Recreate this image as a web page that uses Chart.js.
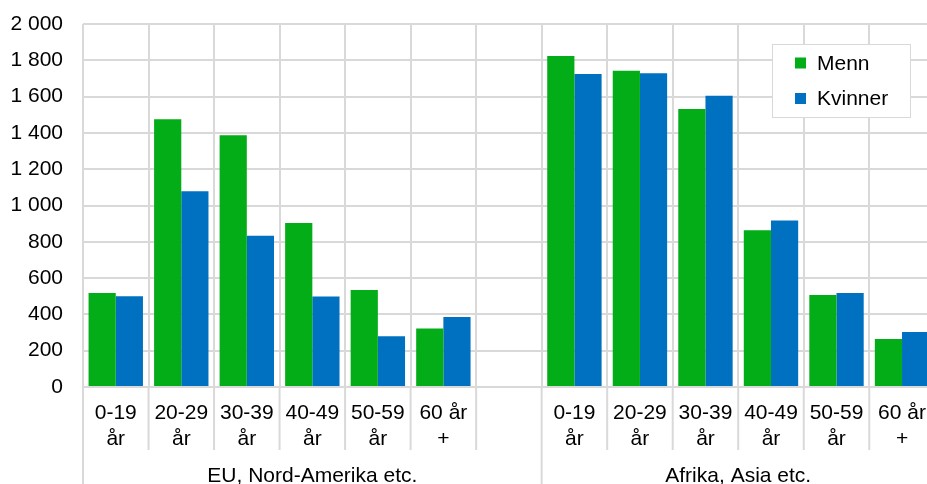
<!DOCTYPE html>
<html>
<head>
<meta charset="utf-8">
<script src="https://cdn.jsdelivr.net/npm/chart.js@4"></script>
<style>
  html, body { margin: 0; padding: 0; overflow: hidden; background: #fff; }
  #wrap { position: absolute; left: 0; top: 0; width: 940px; height: 484px; }
</style>
</head>
<body>
<div id="wrap"><canvas id="chart" width="940" height="484"></canvas></div>
<script>
// age groups per region, with one empty slot between the regions
const ageLabels = [
  ['0-19', 'år'], ['20-29', 'år'], ['30-39', 'år'], ['40-49', 'år'], ['50-59', 'år'], ['60 år', '+'],
  [''],
  ['0-19', 'år'], ['20-29', 'år'], ['30-39', 'år'], ['40-49', 'år'], ['50-59', 'år'], ['60 år', '+']
];
const menn    = [518, 1475, 1387, 903, 534, 323, null, 1824, 1743, 1532, 863, 507, 264];
const kvinner = [500, 1078,  834, 498, 279, 386, null, 1724, 1728, 1605, 918, 518, 303];
const regionLabels = ['EU, Nord-Amerika etc.', 'Afrika, Asia etc.'];
const regionStart = [0, 7];
const regionEnd = [6, 12];
const yMax = 2000;
const yStep = 200;

const font = '"Liberation Sans", Arial, sans-serif';
const gridColor = '#d9d9d9';

function fmt(v) {
  return String(v).replace(/\B(?=(\d{3})+(?!\d))/g, ' ');
}

// lower label row + vertical separators below the axis
const groupPlugin = {
  id: 'groups',
  afterDraw(chart) {
    const ctx = chart.ctx;
    const x = chart.scales.x;
    const bottom = chart.chartArea.bottom;
    const half = (x.getPixelForValue(1) - x.getPixelForValue(0)) / 2;
    ctx.save();
    ctx.strokeStyle = gridColor;
    ctx.lineWidth = 2;
    for (let i = 0; i <= ageLabels.length; i++) {
      const px = x.getPixelForValue(i) - half;
      const isEdge = regionStart.includes(i) || i === ageLabels.length;
      ctx.beginPath();
      ctx.moveTo(px, bottom);
      ctx.lineTo(px, isEdge ? chart.height : 450);
      ctx.stroke();
    }
    ctx.fillStyle = '#000';
    ctx.font = '21px ' + font;
    ctx.textAlign = 'center';
    ctx.textBaseline = 'middle';
    regionLabels.forEach((lab, k) => {
      const l = x.getPixelForValue(regionStart[k]) - half;
      const r = x.getPixelForValue(regionEnd[k]) + half;
      ctx.fillText(lab, (l + r) / 2, 476);
    });
    ctx.restore();
  }
};

// legend box inside the plot
const legendPlugin = {
  id: 'boxLegend',
  afterDraw(chart) {
    const ctx = chart.ctx;
    ctx.save();
    ctx.fillStyle = '#fff';
    ctx.fillRect(772, 44, 138, 73);
    ctx.strokeStyle = gridColor;
    ctx.lineWidth = 1;
    ctx.strokeRect(772.5, 44.5, 138, 73);
    ctx.font = '21px ' + font;
    ctx.textBaseline = 'middle';
    chart.data.datasets.forEach((ds, i) => {
      const cy = 63 + i * 35.5;
      ctx.fillStyle = ds.backgroundColor;
      ctx.fillRect(795, cy - 5.5, 11, 11);
      ctx.fillStyle = '#000';
      ctx.fillText(ds.label, 817, cy + 1);
    });
    ctx.restore();
  }
};

new Chart(document.getElementById('chart'), {
  type: 'bar',
  data: {
    labels: ageLabels,
    datasets: [
      { label: 'Menn', data: menn, backgroundColor: '#03ad17' },
      { label: 'Kvinner', data: kvinner, backgroundColor: '#0070c0' }
    ]
  },
  options: {
    responsive: false,
    animation: false,
    layout: { padding: { top: 24, right: 1, left: 0, bottom: 0 } },
    datasets: { bar: { categoryPercentage: 0.83, barPercentage: 1 } },
    plugins: { legend: { display: false }, tooltip: { enabled: false } },
    scales: {
      x: {
        afterFit(scale) { scale.height = 97; },
        grid: { color: gridColor, lineWidth: 2, offset: true, drawTicks: false },
        border: { display: false },
        ticks: { color: '#000', font: { family: font, size: 21 }, padding: 14, maxRotation: 0, autoSkip: false }
      },
      y: {
        min: 0,
        max: yMax,
        afterFit(scale) {
          scale.width = 83;
          scale.paddingTop = 0;
          scale.paddingBottom = 0;
        },
        grid: { color: gridColor, lineWidth: 2, drawTicks: false },
        border: { display: false },
        ticks: { stepSize: yStep, color: '#000', font: { family: font, size: 21 }, padding: 20, callback: v => fmt(v) }
      }
    }
  },
  plugins: [groupPlugin, legendPlugin]
});
</script>
</body>
</html>
